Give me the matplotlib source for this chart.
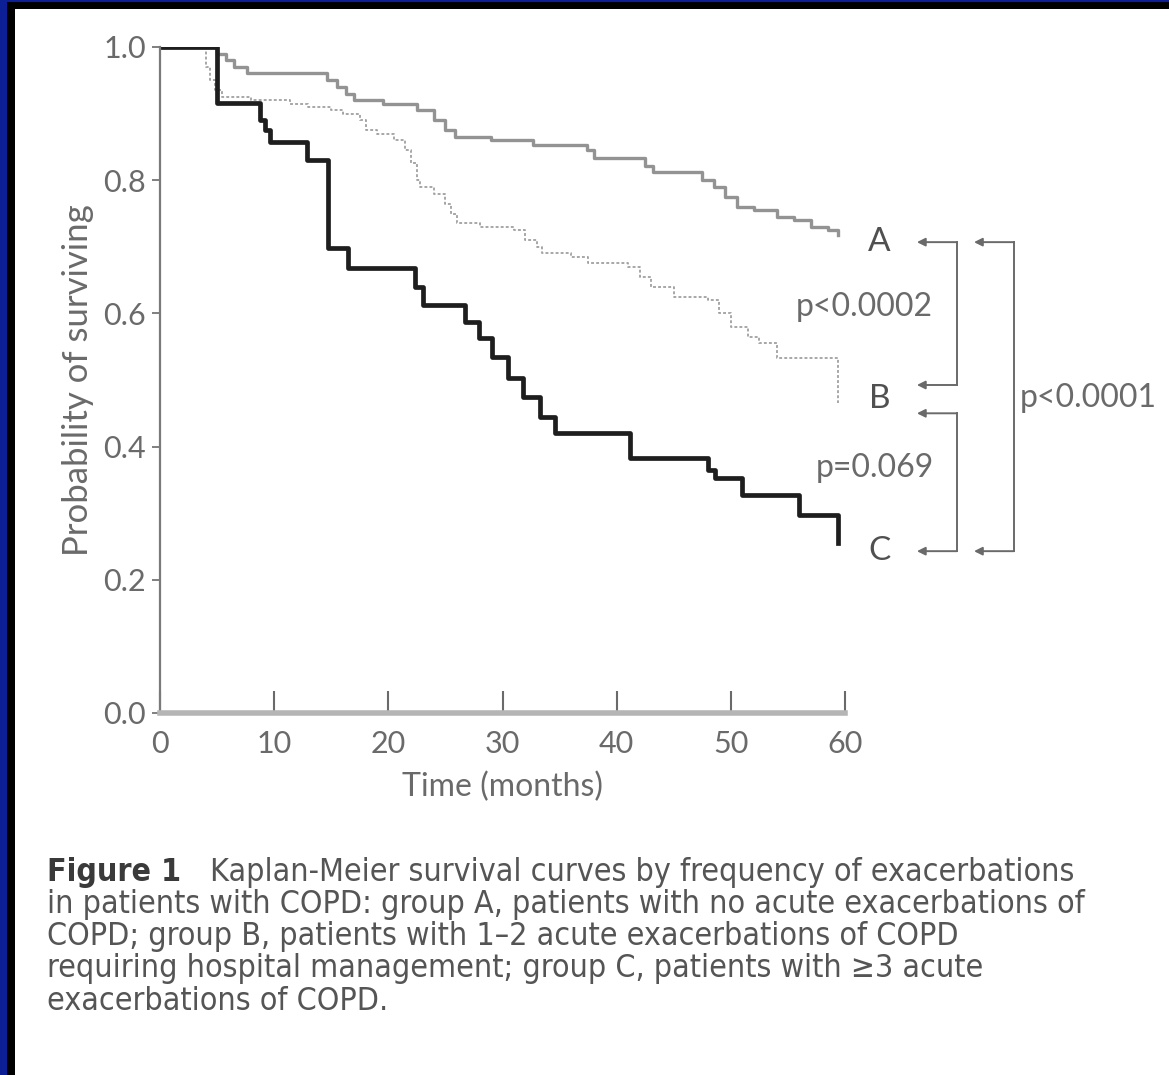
import matplotlib
matplotlib.use("Agg")
import matplotlib.pyplot as plt
from matplotlib.patches import Rectangle

plt.rcParams["font.family"] = ["Lato", "DejaVu Sans"]
CAP_FONT = dict(family="DejaVu Sans", fontstretch="condensed")

# Kaplan-Meier step data (time in months, survival after drop)
time_a = [0, 5.0, 5.8, 6.5, 7.6, 14.6, 15.5, 16.3, 17.0, 19.5, 22.5, 24.0, 25.0,
          25.8, 29.0, 32.7, 37.4, 38.0, 42.5, 43.2, 47.5, 48.5, 49.5, 50.5, 52.0,
          54.0, 55.5, 57.0, 58.5, 59.4]
surv_a = [1.0, 0.99, 0.98, 0.97, 0.961, 0.95, 0.94, 0.93, 0.92, 0.915, 0.905, 0.89,
          0.875, 0.865, 0.86, 0.853, 0.845, 0.833, 0.822, 0.812, 0.80, 0.79, 0.775,
          0.76, 0.755, 0.745, 0.74, 0.73, 0.725, 0.718]

time_b = [0, 4.0, 4.4, 4.8, 5.4, 8.0, 11.4, 13.0, 15.0, 16.0, 17.5, 18.0, 19.0,
          20.5, 21.5, 22.0, 22.5, 22.8, 24.0, 25.0, 25.5, 26.0, 28.0, 31.0, 32.0,
          33.0, 33.5, 36.0, 37.5, 41.0, 42.0, 43.0, 45.0, 48.0, 49.0, 50.0, 51.5,
          52.5, 54.0, 59.4]
surv_b = [1.0, 0.97, 0.95, 0.935, 0.925, 0.92, 0.915, 0.91, 0.905, 0.90, 0.89,
          0.875, 0.87, 0.86, 0.845, 0.826, 0.80, 0.79, 0.78, 0.765, 0.75, 0.736,
          0.73, 0.725, 0.71, 0.70, 0.69, 0.685, 0.676, 0.67, 0.655, 0.64, 0.625,
          0.62, 0.60, 0.58, 0.565, 0.555, 0.533, 0.465]

time_c = [0, 5.0, 8.8, 9.2, 9.6, 12.9, 14.7, 16.5, 22.3, 23.0, 26.7, 27.9, 29.1,
          30.5, 31.8, 33.3, 34.6, 41.2, 48.0, 48.6, 51.0, 56.0, 59.4]
surv_c = [1.0, 0.916, 0.89, 0.875, 0.857, 0.83, 0.698, 0.668, 0.64, 0.613, 0.587,
          0.563, 0.535, 0.503, 0.474, 0.444, 0.42, 0.383, 0.365, 0.353, 0.327,
          0.297, 0.255]

x_ticks = [0, 10, 20, 30, 40, 50, 60]
y_ticks = [0.0, 0.2, 0.4, 0.6, 0.8, 1.0]
group_labels = ["A", "B", "C"]
p_labels = ["p<0.0002", "p=0.069", "p<0.0001"]
caption_head = "Figure 1"
caption = [
    "Kaplan-Meier survival curves by frequency of exacerbations",
    "in patients with COPD: group A, patients with no acute exacerbations of",
    "COPD; group B, patients with 1\u20132 acute exacerbations of COPD",
    "requiring hospital management; group C, patients with \u22653 acute",
    "exacerbations of COPD.",
]

W, H = 1169, 1075
fig = plt.figure(figsize=(W / 100, H / 100), dpi=100)
fig.patch.set_facecolor("white")

# slide frame (blue + black strips on the top/left)
frame = [((0, 0), 7, H, "#0d1f95"), ((7, 0), 8, H - 2, "black"),
         ((0, H - 2), W, 2, "#0d1f95"), ((7, H - 9), W, 7, "black")]
for (x0, y0), w, h, c in frame:
    fig.patches.append(Rectangle((x0 / W, y0 / H), w / W, h / H, lw=0,
                                 transform=fig.transFigure, color=c, zorder=0))

ax = fig.add_axes([160 / W, 362 / H, 685 / W, 666 / H])
grey = "#6a6a6a"
ax.step(time_a, surv_a, where="post", color="#939393", lw=2.4)
ax.step(time_b, surv_b, where="post", color="#a0a0a0", lw=1.3,
        linestyle=(0, (1.6, 1.2)))
ax.step(time_c, surv_c, where="post", color="#1e1e1e", lw=3.4)

ax.set_xlim(0, 60)
ax.set_ylim(0, 1.0)
ax.set_xticks(x_ticks)
ax.set_yticks(y_ticks)
ax.set_yticklabels([f"{v:.1f}" for v in y_ticks])
for s in ("top", "right"):
    ax.spines[s].set_visible(False)
ax.spines["left"].set_color("#7a7a7a")
ax.spines["left"].set_linewidth(1.6)
ax.spines["bottom"].set_color("#b5b5b5")
ax.spines["bottom"].set_linewidth(4)
ax.tick_params(axis="x", direction="in", length=16, width=1.5, color="#6a6a6a",
               labelsize=22, labelcolor=grey, pad=12)
ax.tick_params(axis="y", direction="out", length=6, width=1.2, color="#6a6a6a",
               labelsize=22, labelcolor=grey, pad=4)
ax.set_xlabel("Time (months)", fontsize=23, color=grey, labelpad=10)
ax.set_ylabel("Probability of surviving", fontsize=25, color=grey, labelpad=7)

# group labels and comparison brackets
label_y = [0.707, 0.471, 0.243]
for lab, yv in zip(group_labels, label_y):
    ax.text(63.0, yv, lab, fontsize=24, color="#505050", ha="center", va="center",
            clip_on=False)

arrow = dict(arrowstyle="-|>", color=grey, lw=1.4, mutation_scale=12,
             shrinkA=0, shrinkB=0)
y_a, y_b_up, y_b_low, y_c = 0.707, 0.4925, 0.45, 0.243
x_in, x_in_tip = 69.8, 66.3
x_out, x_out_tip = 74.8, 71.3
for yv in (y_a, y_b_up, y_b_low, y_c):
    ax.annotate("", xy=(x_in_tip, yv), xytext=(x_in, yv), arrowprops=arrow,
                annotation_clip=False)
for yv in (y_a, y_c):
    ax.annotate("", xy=(x_out_tip, yv), xytext=(x_out, yv), arrowprops=arrow,
                annotation_clip=False)
ax.plot([x_in, x_in], [y_a, y_b_up], color=grey, lw=1.4, clip_on=False)
ax.plot([x_in, x_in], [y_b_low, y_c], color=grey, lw=1.4, clip_on=False)
ax.plot([x_out, x_out], [y_a, y_c], color=grey, lw=1.4, clip_on=False)

ax.text(61.7, 0.61, p_labels[0], fontsize=23, color=grey, ha="center",
        va="center", clip_on=False)
ax.text(62.6, 0.368, p_labels[1], fontsize=23, color=grey, ha="center",
        va="center", clip_on=False)
ax.text(75.3, 0.473, p_labels[2], fontsize=23, color=grey, ha="left",
        va="center", clip_on=False)

# caption: size the font so the second line spans the same width as the original
renderer = fig.canvas.get_renderer()
probe = fig.text(0, 0, caption[1], fontsize=20, **CAP_FONT)
cap_size = min(20 * 1110 / probe.get_window_extent(renderer).width, 23)
probe.remove()

fig.text(47 / W, 1 - 873 / H, caption_head, fontsize=cap_size, color="#3a3a3a",
         fontweight="bold", va="center", **CAP_FONT)
fig.text(210 / W, 1 - 873 / H, caption[0], fontsize=cap_size, color="#555555",
         va="center", **CAP_FONT)
for i, line in enumerate(caption[1:]):
    fig.text(47 / W, 1 - (905 + 32 * i) / H, line, fontsize=cap_size,
             color="#555555", va="center", **CAP_FONT)

fig.savefig("out.png", dpi=100)
